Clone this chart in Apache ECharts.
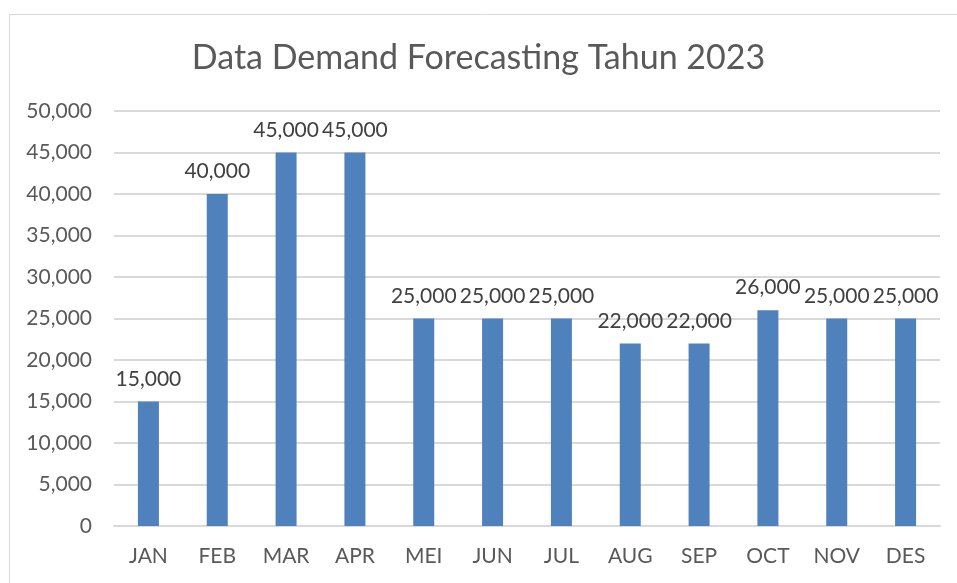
<!DOCTYPE html>
<html>
<head>
<meta charset="utf-8">
<script src="https://cdn.jsdelivr.net/npm/echarts@6/dist/echarts.min.js"></script>
<style>
  html, body { margin: 0; padding: 0; background: #fff; }
  #chart { width: 957px; height: 583px; }
</style>
</head>
<body>
<div id="chart"></div>
<script>
const months = ['JAN', 'FEB', 'MAR', 'APR', 'MEI', 'JUN', 'JUL', 'AUG', 'SEP', 'OCT', 'NOV', 'DES']
const demand = [15000, 40000, 45000, 45000, 25000, 25000, 25000, 22000, 22000, 26000, 25000, 25000]
const chartTitle = 'Data Demand Forecasting Tahun 2023'

const font = 'Lato, "Liberation Sans", sans-serif'
const fmt = v => v.toLocaleString('en-US')

let myChart = echarts.init(document.getElementById('chart'))
myChart.setOption({
  animation: false,
  textStyle: { fontFamily: font },
  graphic: [{
    type: 'rect',
    left: 7, top: 12,
    shape: { width: 960, height: 580 },
    style: { fill: 'none', stroke: '#d9d9d9', lineWidth: 1 },
    silent: true
  }],
  title: {
    text: chartTitle,
    left: 'center',
    top: 36,
    textStyle: { fontFamily: font, fontSize: 34, fontWeight: 'normal', color: '#595959' }
  },
  grid: { left: 114, right: 17, top: 111, bottom: 57 },
  xAxis: {
    type: 'category',
    data: months,
    axisTick: { show: false },
    axisLine: { lineStyle: { color: '#d9d9d9', width: 2 } },
    axisLabel: { color: '#595959', fontSize: 21, margin: 20, fontFamily: font }
  },
  yAxis: {
    type: 'value',
    min: 0,
    max: 50000,
    interval: 5000,
    axisLabel: { color: '#595959', fontSize: 21, margin: 22, formatter: fmt, fontFamily: font },
    splitLine: { lineStyle: { color: '#d9d9d9', width: 2 } },
    axisLine: { show: false },
    axisTick: { show: false }
  },
  series: [{
    type: 'bar',
    data: demand,
    barWidth: 21,
    itemStyle: { color: '#4f81bd' },
    label: {
      show: true,
      position: 'top',
      distance: 12,
      color: '#404040',
      fontSize: 21,
      fontFamily: font,
      formatter: p => fmt(p.value)
    }
  }]
})
</script>
</body>
</html>
